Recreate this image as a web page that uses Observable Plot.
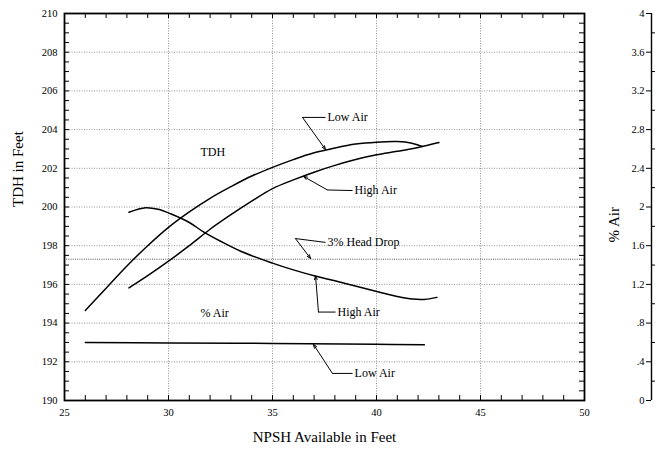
<!DOCTYPE html>
<html>
<head>
<meta charset="utf-8">
<script src="https://cdn.jsdelivr.net/npm/d3@7"></script>
<script src="https://cdn.jsdelivr.net/npm/@observablehq/plot@0.6"></script>
<style>
  html, body { margin: 0; padding: 0; background: #fff; }
  #chart { width: 662px; height: 453px; }
</style>
</head>
<body>
<div id="chart"></div>
<script>
// ---- Data ----
// TDH in feet vs NPSH available in feet
const tdhLowAirX = [26.0, 27.0, 28.0, 29.0, 30.0, 31.0, 32.0, 33.0, 34.0, 35.0, 36.0, 37.0, 38.0, 39.0, 40.0, 41.0, 41.7, 42.2];
const tdhLowAirY = [194.65, 195.8, 196.95, 198.0, 198.95, 199.75, 200.45, 201.05, 201.6, 202.05, 202.45, 202.8, 203.05, 203.25, 203.35, 203.38, 203.3, 203.13];
const tdhHighAirX = [28.1, 29.0, 30.0, 31.0, 32.0, 33.0, 34.0, 35.0, 36.0, 37.0, 38.0, 39.0, 40.0, 41.0, 42.0, 43.0];
const tdhHighAirY = [195.82, 196.45, 197.2, 198.0, 198.85, 199.6, 200.3, 200.95, 201.4, 201.8, 202.15, 202.45, 202.7, 202.88, 203.08, 203.33];
// % Air vs NPSH available
const airHighX = [28.1, 28.9, 29.5, 30.1, 31.0, 31.7, 32.5, 33.5, 35.0, 36.0, 37.0, 38.5, 40.2, 41.0, 41.75, 42.3, 42.9];
const airHighPct = [1.946, 1.992, 1.976, 1.93, 1.84, 1.74, 1.646, 1.54, 1.42, 1.35, 1.29, 1.21, 1.116, 1.075, 1.048, 1.045, 1.066];
const airLowX = [26.0, 30.0, 35.0, 40.0, 42.3];
const airLowPct = [0.6, 0.595, 0.59, 0.582, 0.575];
const headDrop = 197.3; // 3% head drop level (TDH)

// Axis ticks / labels
const xLabels = [25, 30, 35, 40, 45, 50];
const xGrid = [30, 35, 40, 45];
const yLabels = [190, 192, 194, 196, 198, 200, 202, 204, 206, 208, 210];
const yGrid = [192, 194, 196, 198, 200, 202, 204, 206, 208];
const pctLabels = [0, 0.4, 0.8, 1.2, 1.6, 2, 2.4, 2.8, 3.2, 3.6, 4];
const pctMinor = [0.2, 0.6, 1.0, 1.4, 1.8, 2.2, 2.6, 3.0, 3.4, 3.8];
const xMinor = d3.range(26, 50, 1);
const yMinor = d3.range(190.5, 210, 0.5);

// Annotations: text position, leader elbow, and arrow target (data units)
const annLabels = ["Low Air", "High Air", "3% Head Drop", "High Air", "Low Air", "TDH", "% Air"];
const annTextX = [37.55, 38.85, 37.55, 38.03, 38.85, 31.44, 31.44];
const annTextY = [204.63, 200.85, 198.17, 194.57, 191.4, 202.82, 194.5];
const leaderElbowX = [36.44, 37.64, 36.1, 37.21, 37.88];
const leaderElbowY = [204.63, 200.88, 198.37, 194.57, 191.4];
const leaderTargetX = [37.55, 36.49, 36.83, 37.07, 36.97];
const leaderTargetY = [202.97, 201.58, 197.34, 196.44, 192.9];

// ---- Layout ----
const W = 662, H = 453, ML = 64, MR = 78, MT = 13, MB = 53;
const innerW = W - ML - MR, innerH = H - MT - MB;
const pctToTdh = p => 190 + p * 5; // right axis 0–4 % maps onto 190–210 ft
const pctFmt = p => p === 0 ? "0" : String(+p.toFixed(1)).replace(/^0\./, ".");

const zip = (xs, ys) => xs.map((x, i) => ({x, y: ys[i]}));
const tdhLow = zip(tdhLowAirX, tdhLowAirY);
const tdhHigh = zip(tdhHighAirX, tdhHighAirY);
const airHigh = airHighX.map((x, i) => ({x, y: pctToTdh(airHighPct[i])}));
const airLow = airLowX.map((x, i) => ({x, y: pctToTdh(airLowPct[i])}));
const texts = annLabels.map((t, i) => ({t, x: annTextX[i], y: annTextY[i]}));
const leaders = leaderElbowX.map((ex, i) => ({
  tx: annTextX[i], ty: annTextY[i], ex, ey: leaderElbowY[i], ax: leaderTargetX[i], ay: leaderTargetY[i]
}));

const gridStyle = {stroke: "#777", strokeWidth: 0.8, strokeDasharray: "1,1.5"};

const chart = Plot.plot({
  width: W, height: H,
  marginLeft: ML, marginRight: MR, marginTop: MT, marginBottom: MB,
  style: {fontFamily: "'Liberation Serif', serif", fontSize: "10px", color: "#000", background: "#fff"},
  x: {domain: [25, 50], axis: null},
  y: {domain: [190, 210], axis: null},
  marks: [
    // grid
    Plot.ruleY(yGrid, gridStyle),
    Plot.ruleX(xGrid, gridStyle),
    Plot.ruleY([headDrop], {stroke: "#444", strokeWidth: 0.9, strokeDasharray: "1,1.2"}),
    // inner ticks on frame
    Plot.ruleY(yMinor, {stroke: "#000", insetRight: innerW - 5}),
    Plot.ruleY(yMinor, {stroke: "#000", insetLeft: innerW - 5}),
    Plot.ruleX(xMinor, {stroke: "#000", insetTop: innerH - 5}),
    Plot.ruleX(xMinor, {stroke: "#000", insetBottom: innerH - 5}),
    Plot.frame({stroke: "#000", strokeWidth: 1.8}),
    // left & bottom tick labels
    Plot.axisY(yLabels, {anchor: "left", tickSize: 0, tickPadding: 7, fontSize: 10.5}),
    Plot.axisX(xLabels, {anchor: "bottom", tickSize: 0, tickPadding: 8, fontSize: 10.5}),
    // right % Air axis (offset from frame)
    Plot.ruleX([50], {stroke: "#000", strokeWidth: 1.4, dx: 67}),
    Plot.ruleY(pctLabels.map(pctToTdh), {stroke: "#000", insetLeft: innerW - 5, dx: 67}),
    Plot.ruleY(pctMinor.map(pctToTdh), {stroke: "#000", insetLeft: innerW - 4, dx: 71}),
    Plot.text(pctLabels, {y: pctToTdh, text: pctFmt, frameAnchor: "right", dx: 60, textAnchor: "end", fontSize: 10.5}),
    // axis titles
    Plot.text(["TDH in Feet"], {frameAnchor: "left", dx: -46, rotate: -90, fontSize: 15}),
    Plot.text(["% Air"], {frameAnchor: "right", dx: 30, rotate: -90, fontSize: 15}),
    Plot.text(["NPSH Available in Feet"], {frameAnchor: "bottom", dy: 41, fontSize: 15}),
    // curves
    Plot.line(tdhLow, {x: "x", y: "y", curve: "catmull-rom", stroke: "#000", strokeWidth: 1.5}),
    Plot.line(tdhHigh, {x: "x", y: "y", curve: "catmull-rom", stroke: "#000", strokeWidth: 1.5}),
    Plot.line(airHigh, {x: "x", y: "y", curve: "catmull-rom", stroke: "#000", strokeWidth: 1.5}),
    Plot.line(airLow, {x: "x", y: "y", curve: "catmull-rom", stroke: "#000", strokeWidth: 1.5}),
    // annotation leaders
    Plot.link(leaders, {x1: "ex", y1: "ey", x2: "tx", y2: "ty", stroke: "#000", strokeWidth: 1}),
    Plot.arrow(leaders, {x1: "ex", y1: "ey", x2: "ax", y2: "ay", stroke: "#000", strokeWidth: 1, headLength: 6, headAngle: 40}),
    // annotation texts
    Plot.text(texts, {x: "x", y: "y", text: "t", textAnchor: "start", dx: 2, fontSize: 12})
  ]
});
document.getElementById("chart").appendChild(chart);
</script>
</body>
</html>
